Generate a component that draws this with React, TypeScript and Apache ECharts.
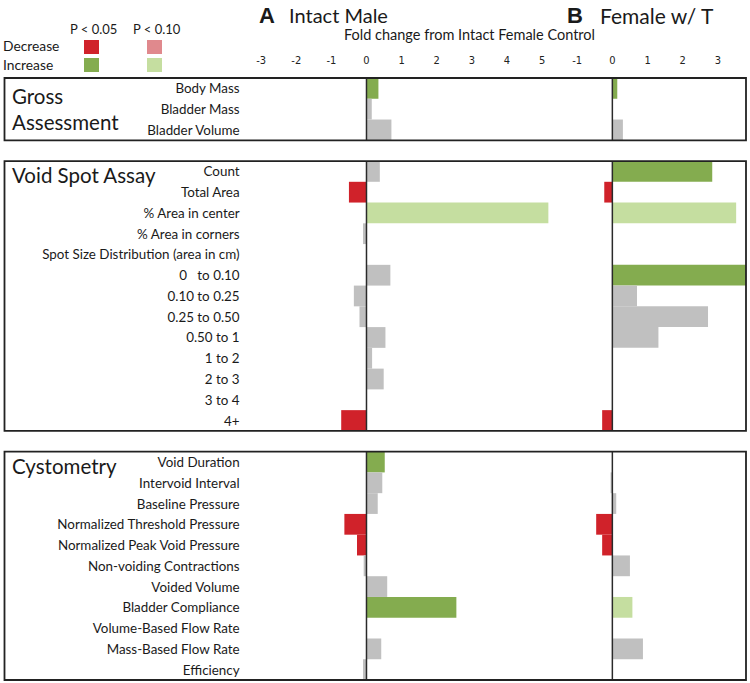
import React, { useEffect, useRef } from "react";
import * as echarts from "echarts";

const categories = [
  "Body Mass", "Bladder Mass", "Bladder Volume", "",
  "Count", "Total Area", "% Area in center", "% Area in corners",
  "Spot Size Distribution (area in cm)", "0   to 0.10", "0.10 to 0.25", "0.25 to 0.50",
  "0.50 to 1", "1 to 2", "2 to 3", "3 to 4", "4+", " ",
  "Void Duration", "Intervoid Interval", "Baseline Pressure", "Normalized Threshold Pressure",
  "Normalized Peak Void Pressure", "Non-voiding Contractions", "Voided Volume", "Bladder Compliance",
  "Volume-Based Flow Rate", "Mass-Based Flow Rate", "Efficiency",
];

// Fold change, Intact Male vs Intact Female Control
const maleValues = [
  0.34, 0.15, 0.71, null,
  0.38, -0.5, 5.18, -0.1, null, 0.68, -0.36, -0.2, 0.54, 0.16, 0.49, null, -0.72, null,
  0.52, 0.45, 0.32, -0.63, -0.27, -0.08, 0.59, 2.56, null, 0.42, -0.1,
];
// significance: 1 = P < 0.05, 2 = P < 0.10, 0 = n.s.
const maleSig = [
  1, 0, 0, null,
  0, 1, 2, 0, null, 0, 0, 0, 0, 0, 0, null, 1, null,
  1, 0, 0, 1, 1, 0, 0, 1, null, 0, 0,
];

// Fold change, Female w/ T vs Intact Female Control
const femaleValues = [
  0.14, null, 0.3, null,
  2.84, -0.23, 3.52, null, null, 3.9, 0.7, 2.72, 1.31, null, null, null, -0.29, null,
  null, -0.05, 0.11, -0.46, -0.29, 0.5, null, 0.57, null, 0.87, null,
];
const femaleSig = [
  1, null, 0, null,
  1, 1, 2, null, null, 1, 0, 0, 0, null, null, null, 1, null,
  null, 0, 0, 1, 1, 0, null, 2, null, 0, null,
];

const maleTicks = [-3, -2, -1, 0, 1, 2, 3, 4, 5];
const femaleTicks = [-1, 0, 1, 2, 3];

// sections: [first row index, last row index]
const sections = [
  [0, 2],
  [4, 16],
  [18, 28],
];

const RED = "#d0222a";
const PINK = "#e0898d";
const GREEN = "#84ac4f";
const LGREEN = "#c5dea0";
const GRAY = "#c0c0c0";

const FONT = "Lato, 'Open Sans', sans-serif";
const NARROW = "'Liberation Sans Narrow', 'DejaVu Sans Condensed', sans-serif";

function colorFor(v: number, sig: number | null) {
  if (!sig) return GRAY;
  if (v < 0) return sig === 1 ? RED : PINK;
  return sig === 1 ? GREEN : LGREEN;
}

function barData(values: (number | null)[], sig: (number | null)[]) {
  return values.map((v, i) =>
    v === null ? "-" : { value: v, itemStyle: { color: colorFor(v, sig[i]) } }
  );
}

export default function App() {
  const ref = useRef<HTMLDivElement>(null);
  useEffect(() => {
    document.body.style.margin = "0";
    const chart = echarts.init(ref.current!, null, { renderer: "svg" });

    const boxRender = (withBox: boolean) => (params: any, api: any) => {
      const start = api.value(1);
      const end = api.value(2);
      const h = api.size([0, 1])[1];
      const p0 = api.coord([0, start]);
      const p1 = api.coord([0, end]);
      const y0 = p0[1] - h / 2;
      const y1 = p1[1] + h / 2;
      const children: any[] = [
        {
          type: "line",
          shape: { x1: p0[0], y1: y0, x2: p0[0], y2: y1 },
          style: { stroke: "#2a2a2a", lineWidth: 1.5 },
        },
      ];
      if (withBox) {
        children.push({
          type: "rect",
          shape: { x: 4.5, y: y0, width: 741.5, height: y1 - y0 },
          style: { fill: "none", stroke: "#222", lineWidth: 1.8 },
        });
      }
      return { type: "group", children };
    };

    const sectionData = sections.map((s) => [0, s[0], s[1]]);

    const legendSquare = (x: number, y: number, fill: string) => ({
      type: "rect",
      shape: { x, y, width: 15, height: 14 },
      style: { fill },
    });
    const txt = (x: number, y: number, text: string, size: number, extra: any = {}) => ({
      type: "text",
      x,
      y,
      style: {
        text,
        fontSize: size,
        fontFamily: FONT,
        fill: "#1a1a1a",
        verticalAlign: "middle",
        ...extra,
      },
    });

    chart.setOption({
      animation: false,
      backgroundColor: "#ffffff",
      grid: [
        { left: 243.6, width: 316, top: 78, height: 602 },
        { left: 559.6, width: 186.4, top: 78, height: 602 },
      ],
      xAxis: [
        {
          gridIndex: 0,
          type: "value",
          position: "top",
          min: -3.5,
          max: 5.5,
          splitLine: { show: false },
          axisLine: { show: false },
          axisTick: { show: false },
          axisLabel: {
            customValues: maleTicks,
            fontSize: 11,
            fontFamily: NARROW,
            color: "#222",
            margin: 12,
          },
        },
        {
          gridIndex: 1,
          type: "value",
          position: "top",
          min: -1.5,
          max: 3.8,
          splitLine: { show: false },
          axisLine: { show: false },
          axisTick: { show: false },
          axisLabel: {
            customValues: femaleTicks,
            fontSize: 11,
            fontFamily: NARROW,
            color: "#222",
            margin: 12,
          },
        },
      ],
      yAxis: [
        {
          gridIndex: 0,
          type: "category",
          inverse: true,
          data: categories,
          axisLine: { show: false },
          axisTick: { show: false },
          axisLabel: {
            fontSize: 13.4,
            fontFamily: FONT,
            color: "#1a1a1a",
            margin: 4,
            interval: 0,
          },
        },
        {
          gridIndex: 1,
          type: "category",
          inverse: true,
          data: categories,
          axisLine: { show: false },
          axisTick: { show: false },
          axisLabel: { show: false },
        },
      ],
      series: [
        {
          type: "bar",
          xAxisIndex: 0,
          yAxisIndex: 0,
          data: barData(maleValues, maleSig),
          barWidth: "100%",
          barCategoryGap: "0%",
        },
        {
          type: "bar",
          xAxisIndex: 1,
          yAxisIndex: 1,
          data: barData(femaleValues, femaleSig),
          barWidth: "100%",
          barCategoryGap: "0%",
        },
        {
          type: "custom",
          xAxisIndex: 0,
          yAxisIndex: 0,
          data: sectionData,
          encode: { x: 0, y: 1 },
          renderItem: boxRender(false),
          z: 10,
          silent: true,
        },
        {
          type: "custom",
          xAxisIndex: 1,
          yAxisIndex: 1,
          data: sectionData,
          encode: { x: 0, y: 1 },
          renderItem: boxRender(true),
          z: 10,
          silent: true,
        },
      ],
      graphic: [
        // legend
        txt(70, 29, "P < 0.05", 13),
        txt(133, 29, "P < 0.10", 13),
        txt(3, 45, "Decrease", 13.8),
        txt(3, 64, "Increase", 13.8),
        legendSquare(84, 40, RED),
        legendSquare(147, 40, PINK),
        legendSquare(84, 58, GREEN),
        legendSquare(147, 58, LGREEN),
        // headers
        txt(259, 15, "A", 22, { fontFamily: "'Liberation Sans', Arial, sans-serif", fontWeight: "bold" }),
        txt(289, 15, "Intact Male", 20),
        txt(567, 15, "B", 22, { fontFamily: "'Liberation Sans', Arial, sans-serif", fontWeight: "bold" }),
        txt(600, 15, "Female w/ T", 21),
        txt(344, 34, "Fold change from Intact Female Control", 14.5),
        // section titles
        txt(12, 96, "Gross", 20.5),
        txt(12, 122, "Assessment", 20.5),
        txt(12, 175, "Void Spot Assay", 20.5),
        txt(12, 466, "Cystometry", 20.5),
      ],
    });
    return () => chart.dispose();
  }, []);
  return <div ref={ref} style={{ width: 750, height: 683 }} />;
}
